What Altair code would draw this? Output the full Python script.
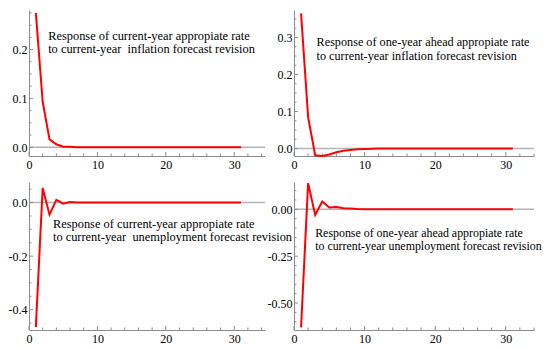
import altair as alt
import pandas as pd

# ---------------- data ----------------
steps = list(range(1, 32))

tl_vals = [0.275, 0.093, 0.016, 0.006, 0.001, 0.001] + [0.0] * 25
tr_vals = [0.365, 0.085, -0.018, -0.020, -0.016, -0.010, -0.006, -0.0035,
           -0.002, -0.001, -0.0005] + [0.0] * 20
bl_vals = [-0.465, 0.055, -0.045, 0.010, -0.004, 0.002, 0.0005] + [0.0] * 24
br_vals = [-0.630, 0.140, -0.030, 0.042, 0.010, 0.013, 0.006, 0.004,
           0.002, 0.001, 0.0005] + [0.0] * 20

tl_note = ["Response of current-year appropiate rate",
           "to current-year\u00a0 inflation forecast revision"]
tr_note = ["Response of one-year ahead appropiate rate",
           "to current-year inflation forecast revision"]
bl_note = ["Response of current-year appropiate rate",
           "to current-year\u00a0 unemployment forecast revision"]
br_note = ["Response of one-year ahead appropiate rate",
           "to current-year unemployment forecast revision"]

x_major = [0, 10, 20, 30]
x_minor = [2, 4, 6, 8, 12, 14, 16, 18, 22, 24, 26, 28, 32, 34]

tl_yticks = [0.0, 0.1, 0.2]
tl_yminor = [0.025, 0.05, 0.075, 0.125, 0.15, 0.175, 0.225, 0.25, 0.275]
tr_yticks = [0.0, 0.1, 0.2, 0.3]
tr_yminor = [0.025, 0.05, 0.075, 0.125, 0.15, 0.175, 0.225, 0.25, 0.275,
             0.325, 0.35]
bl_yticks = [0.0, -0.2, -0.4]
bl_yminor = [0.05, -0.05, -0.1, -0.15, -0.25, -0.3, -0.35, -0.45]
br_yticks = [0.0, -0.25, -0.5]
br_yminor = [0.1, 0.05, -0.05, -0.1, -0.15, -0.2, -0.3, -0.35, -0.4, -0.45,
             -0.55, -0.6]

AX = "#8c8c8c"
FONT = "Liberation Serif"


def panel(vals, xdom, ydom, yticks, yminor, yfmt, note, note_x, note_y, w, h,
          fs):
    xs = alt.Scale(domain=xdom, nice=False, zero=False)
    ys = alt.Scale(domain=ydom, nice=False, zero=False)
    xaxis = alt.Axis(values=x_major, ticks=False, grid=False, title=None,
                     domainColor=AX, domainWidth=1, labelFont=FONT,
                     labelFontSize=12, labelColor="black", labelPadding=3,
                     format="d", labelOverlap=False, labelFlush=False)
    yaxis = alt.Axis(values=yticks, ticks=False, grid=False, title=None,
                     domainColor=AX, domainWidth=1, labelFont=FONT,
                     labelFontSize=12, labelColor="black", labelPadding=2,
                     labelExpr="replace(format(datum.value, '%s'), '\u2212', '-')" % yfmt,
                     labelOverlap=False, labelFlush=False)
    X = alt.X("step:Q", scale=xs, axis=xaxis)
    Y = alt.Y("value:Q", scale=ys, axis=yaxis)

    zero = alt.Chart(pd.DataFrame({"value": [0.0]})).mark_rule(
        color="#b4b4b4", strokeWidth=1.5).encode(y=Y)
    xt_maj = alt.Chart(pd.DataFrame({"step": x_major})).mark_rule(
        color=AX, strokeWidth=1).encode(x=X, y=alt.value(h), y2=alt.value(h - 4))
    xt_min = alt.Chart(pd.DataFrame({"step": x_minor})).mark_rule(
        color=AX, strokeWidth=1).encode(x=X, y=alt.value(h), y2=alt.value(h - 2.5))
    yt_maj = alt.Chart(pd.DataFrame({"value": yticks})).mark_rule(
        color=AX, strokeWidth=1).encode(y=Y, x=alt.value(0), x2=alt.value(4))
    yt_min = alt.Chart(pd.DataFrame({"value": yminor})).mark_rule(
        color=AX, strokeWidth=1).encode(y=Y, x=alt.value(0), x2=alt.value(2.5))
    line = alt.Chart(pd.DataFrame({"step": steps, "value": vals})).mark_line(
        color="#ff0000", strokeWidth=2).encode(x=X, y=Y)
    text = alt.Chart(pd.DataFrame({"step": [note_x], "value": [note_y],
                                   "label": ["\n".join(note)]})).mark_text(
        align="left", baseline="top", lineBreak="\n", font=FONT, fontSize=fs,
        lineHeight=13.4, color="black").encode(x=X, y=Y, text="label:N")
    return alt.layer(zero, xt_maj, xt_min, yt_maj, yt_min, line, text).properties(
        width=w, height=h)


tl = panel(tl_vals, [0, 34.5], [-0.018, 0.281], tl_yticks, tl_yminor, ".1f",
           tl_note, 2.8, 0.240, 236, 146, 12.4)
tr = panel(tr_vals, [0, 34], [-0.020, 0.374], tr_yticks, tr_yminor, ".1f",
           tr_note, 3.2, 0.303, 240, 146, 12.2)
bl = panel(bl_vals, [0, 34.5], [-0.476, 0.077], bl_yticks, bl_yminor, ".1f",
           bl_note, 3.5, -0.057, 236, 148, 12.4)
br = panel(br_vals, [0, 34], [-0.644, 0.146], br_yticks, br_yminor, ".2f",
           br_note, 3.0, -0.100, 240, 148, 11.9)

chart = alt.concat(tl, tr, bl, br, columns=2,
                   spacing={"row": 26, "column": 29},
                   bounds="flush", align="each").properties(
    padding=0).configure_view(stroke=None).configure_axis(
    labelFont=FONT, labelFontSize=12, labelColor="black")

chart.save("out.html", embed_options={"renderer": "svg", "actions": False})
